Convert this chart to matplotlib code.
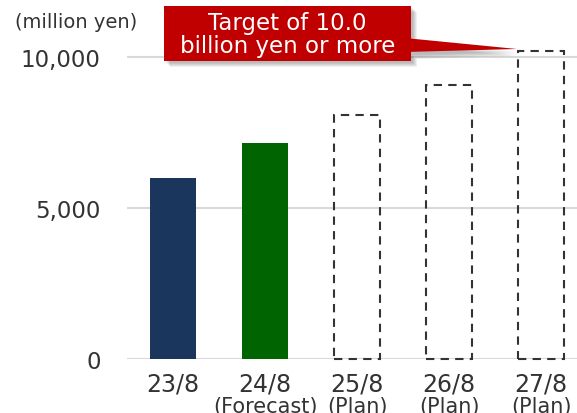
import matplotlib
matplotlib.use("Agg")
import matplotlib.pyplot as plt
import matplotlib.patches as patches
from matplotlib.transforms import blended_transform_factory

plt.rcParams['font.family'] = ['DejaVu Sans']

# data (million yen)
years = ['23/8', '24/8', '25/8', '26/8', '27/8']
sublabels = ['', '(Forecast)', '(Plan)', '(Plan)', '(Plan)']
values = [6000, 7150, 8100, 9100, 10200]
kinds = ['actual', 'forecast', 'plan', 'plan', 'plan']
yticks = [0, 5000, 10000]
ytick_labels = ['0', '5,000', '10,000']

colors = {'actual': '#1b365d', 'forecast': '#006400'}
text_col = '#333333'

fig = plt.figure(figsize=(5.77, 4.14), dpi=100)
ax = fig.add_axes([0.2201, 0.1304, 0.7799, 0.765])

x = list(range(len(years)))
for xi, v, k in zip(x, values, kinds):
    if k == 'plan':
        ax.bar(xi, v, width=0.5, fill=False, edgecolor='#333333',
               linestyle=(0, (4, 3)), linewidth=1.5, zorder=3, clip_on=False)
    else:
        ax.bar(xi, v, width=0.5, color=colors[k], zorder=3)

ax.set_xlim(-0.5, 4.39)
ax.set_ylim(0, 10500)
ax.set_yticks(yticks)
ax.set_yticklabels(ytick_labels)
ax.yaxis.grid(True, color='#d9d9d9', linewidth=1.5, zorder=0)
ax.set_axisbelow(True)
for s in ax.spines.values():
    s.set_visible(False)
ax.tick_params(axis='y', length=0, pad=19, labelsize=16.5, labelcolor=text_col)
ax.set_xticks([])

# x labels, two sizes
trans = blended_transform_factory(ax.transData, ax.transAxes)
for xi, yr, sub in zip(x, years, sublabels):
    ax.text(xi, -0.04, yr, transform=trans, ha='center', va='top',
            fontsize=17, color=text_col)
    if sub:
        ax.text(xi, -0.118, sub, transform=trans, ha='center', va='top',
                fontsize=15, color=text_col)

fig.text(15 / 577, 1 - 22 / 414, '(million yen)', ha='left', va='center',
         fontsize=14, color=text_col)

# callout box with pointer, in figure pixel coords
W, H = 577, 414
def fx(px):
    return px / W
def fy(py):
    return 1 - py / H

# soft shadow
for i in range(5):
    off = 2 + i
    fig.patches.append(patches.Rectangle((fx(164 + off), fy(62 + off)),
                                         fx(247), 55 / H, transform=fig.transFigure,
                                         facecolor='black', alpha=0.06, edgecolor='none'))
    fig.patches.append(patches.Polygon([(fx(411 + off), fy(42 + off)),
                                        (fx(517), fy(51 + off)),
                                        (fx(411 + off), fy(54 + off))],
                                       closed=True, transform=fig.transFigure,
                                       facecolor='black', alpha=0.06, edgecolor='none'))

fig.patches.append(patches.Polygon([(fx(405), fy(39)), (fx(517), fy(50)),
                                    (fx(405), fy(53))], closed=True,
                                   transform=fig.transFigure,
                                   facecolor='#c00000', edgecolor='none'))
fig.patches.append(patches.Rectangle((fx(164), fy(62)), fx(247), 55 / H,
                                     transform=fig.transFigure,
                                     facecolor='#c00000', edgecolor='none'))
fig.text(fx(287.5), fy(35), 'Target of 10.0\nbillion yen or more',
         ha='center', va='center', fontsize=16.5, color='white', linespacing=1.05)

fig.savefig('out.png', dpi=100)
